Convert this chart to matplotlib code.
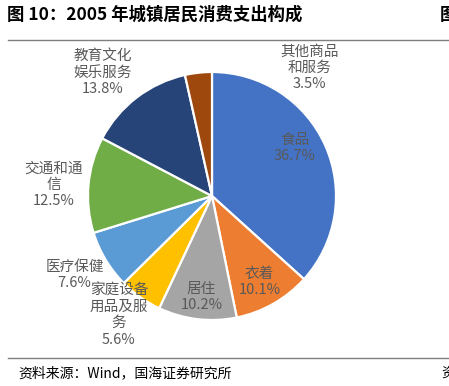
import numpy as np
import matplotlib
matplotlib.use('Agg')
import matplotlib.pyplot as plt
from matplotlib.lines import Line2D

plt.rcParams['font.family'] = ['Noto Sans CJK SC', 'DejaVu Sans']

# data, clockwise from 12 o'clock
names = ['食品', '衣着', '居住', '家庭设备\n用品及服\n务', '医疗保健',
         '交通和通\n信', '教育文化\n娱乐服务', '其他商品\n和服务']
shares = [36.7, 10.1, 10.2, 5.6, 7.6, 12.5, 13.8, 3.5]
colors = ['#4472C4', '#ED7D31', '#A5A5A5', '#FFC000', '#5B9BD5',
          '#70AD47', '#264478', '#9E480E']

# label placement: (radius factor, angle in degrees) around the pie centre
label_pos = [(0.77, 30), (0.79, -61), (0.82, -96), (1.22, -128),
             (1.28, -150), (1.28, 176), (1.33, 131.5), (1.30, 52.6)]

W, H = 449, 386
fig = plt.figure(figsize=(W / 100, H / 100), dpi=100)
ax = fig.add_axes([0, 0, 1, 1])

cx, cy, R = 212, H - 196, 124
ax.pie(shares, colors=colors, startangle=90, counterclock=False,
       center=(cx, cy), radius=R,
       wedgeprops=dict(edgecolor='white', linewidth=1.6))
ax.set_xlim(0, W)
ax.set_ylim(0, H)
ax.axis('off')

for name, val, (rf, ang) in zip(names, shares, label_pos):
    a = np.deg2rad(ang)
    ax.text(cx + rf * R * np.cos(a), cy + rf * R * np.sin(a),
            '{0}\n{1:.1f}%'.format(name, val), ha='center', va='center',
            fontsize=10.5, color='#595959', linespacing=1.2)

# header and footer (the right-hand characters are cut off in the source too)
fig.text(7 / W, 1 - 15 / H, '图 10：2005 年城镇居民消费支出构成',
         fontsize=12.5, fontweight='bold', va='center', ha='left')
fig.text(440 / W, 1 - 15 / H, '图', fontsize=12.5, fontweight='bold',
         va='center', ha='left')
fig.add_artist(Line2D([8 / W, 1], [1 - 40 / H, 1 - 40 / H],
                      color='#7f7f7f', lw=1))
fig.add_artist(Line2D([8 / W, 1], [1 - 358 / H, 1 - 358 / H],
                      color='#7f7f7f', lw=1))
fig.text(18 / W, 1 - 373 / H, '资料来源：Wind，国海证券研究所',
         fontsize=10, va='center', ha='left')
fig.text(441 / W, 1 - 373 / H, '资', fontsize=10, va='center', ha='left')

fig.savefig('out.png', dpi=100)
